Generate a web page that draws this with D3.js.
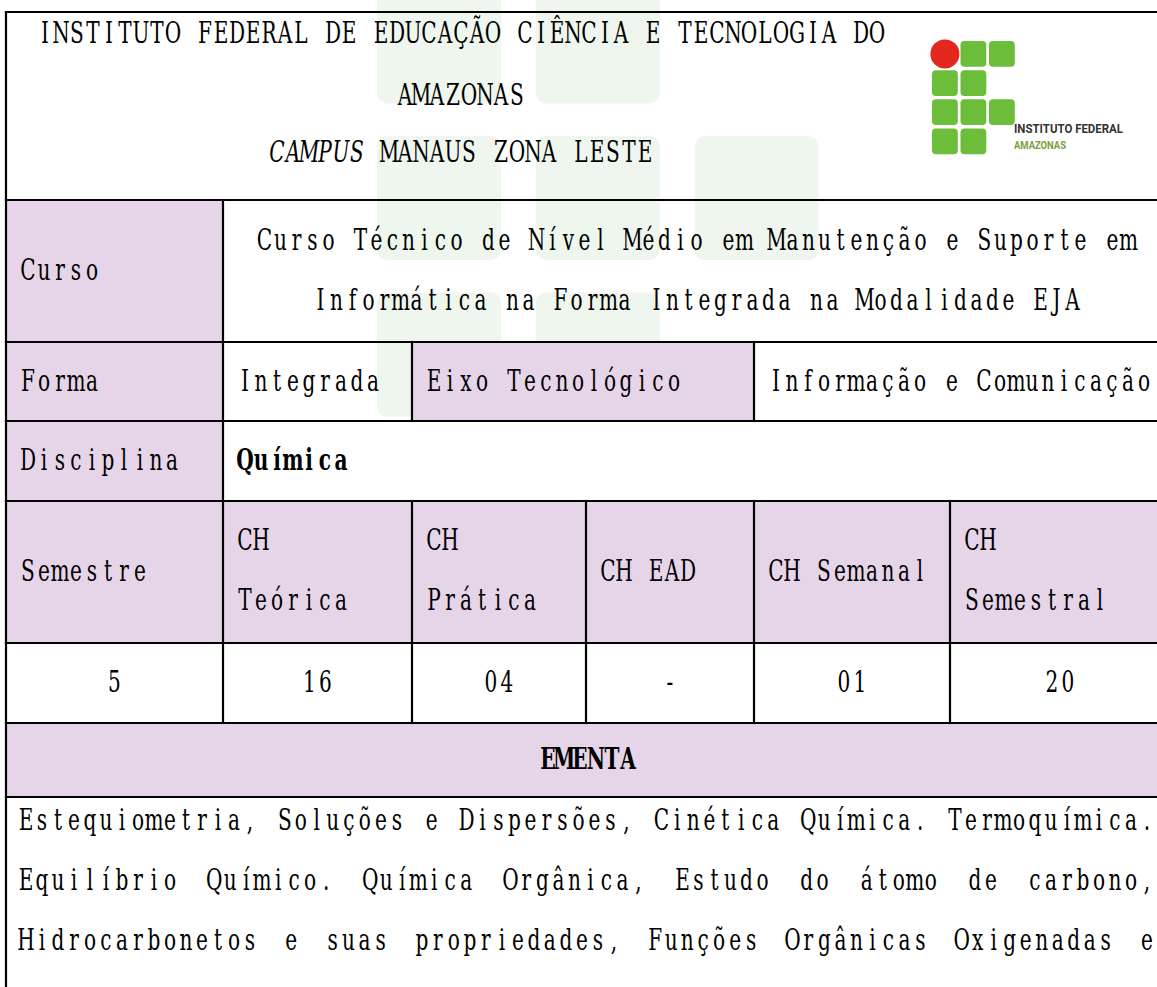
<!DOCTYPE html>
<html><head><meta charset="utf-8">
<script src="https://cdn.jsdelivr.net/npm/d3@7"></script>
<style>html,body{margin:0;padding:0;background:#fff;overflow:hidden}svg{display:block}</style>
</head><body>
<svg id="c" width="1157" height="987"></svg>
<script>
// ---------------- DATA (content) ----------------
const headerLines = [
  [{t:"INSTITUTO FEDERAL DE EDUCAÇÃO CIÊNCIA E TECNOLOGIA DO"}],
  [{t:"AMAZONAS"}],
  [{t:"CAMPUS", italic:true},{t:" MANAUS ZONA LESTE"}]
];
const logoLines = ["INSTITUTO FEDERAL", "AMAZONAS"];
const logoGrid = [ // logo cells: 'c' circle, 's' square, '' empty
  ["c","s","s"],
  ["s","s",""],
  ["s","s","s"],
  ["s","s",""]
];
const cursoLabel = "Curso";
const cursoLines = ["Curso Técnico de Nível Médio em Manutenção e Suporte em",
                    "Informática na Forma Integrada na Modalidade EJA"];
const formaCells = ["Forma", "Integrada", "Eixo Tecnológico", "Informação e Comunicação"];
const disciplinaCells = ["Disciplina", "Química"];
const loadHeaders = [["Semestre"], ["CH","Teórica"], ["CH","Prática"], ["CH EAD"], ["CH Semanal"], ["CH","Semestral"]];
const loadValues = ["5", "16", "04", "-", "01", "20"];
const ementaTitle = "EMENTA";
const ementaLines = [
  "Estequiometria, Soluções e Dispersões, Cinética Química. Termoquímica.",
  "Equilíbrio Químico. Química Orgânica, Estudo do átomo de carbono,",
  "Hidrocarbonetos e suas propriedades, Funções Orgânicas Oxigenadas e"
];

// ---------------- LAYOUT ----------------
const PURPLE = "#e6d5e8", WM = "#eef6ee", GREEN = "#6cbd3a", RED = "#e2271f";
const ADV = 16, FS = 30, SX = 0.67, FONT = "'DejaVu Serif','Liberation Serif',serif";
const X = {L:6, c1:223, c2:412, c3:586, c4:754, c5:950, R:1170};
const Y = {top:12, h:200, curso:342, forma:421, disc:501, semH:643, semV:723, em:797, bot:1000};
const PAD = 14;

const svg = d3.select("#c");
svg.append("rect").attr("width",1157).attr("height",987).attr("fill","#fff");

// watermark (faded logo) behind the table cells
const wmX = d3.scaleBand().domain([0,1,2]).range([377, 377+3*150]).paddingInner(25/150).paddingOuter(0).align(0);
const wmY = d3.scaleBand().domain([0,1,2,3]).range([-177, -177+4*150]).paddingInner(25/150).align(0);
const wmCells = [];
logoGrid.forEach((row,r)=>row.forEach((k,c)=>{ if(k) wmCells.push({r,c,k}); }));
svg.append("g").selectAll("rect").data(wmCells.filter(d=>d.k==="s")).join("rect")
  .attr("x",d=>wmX(d.c)).attr("y",d=>wmY(d.r))
  .attr("width",124).attr("height",124).attr("rx",10).attr("fill",WM);

// ---------------- CELLS ----------------
const cells = [
  {x0:X.L,x1:X.c1,y0:Y.h,y1:Y.curso,fill:PURPLE},
  {x0:X.L,x1:X.c1,y0:Y.curso,y1:Y.forma,fill:PURPLE},
  {x0:X.c2,x1:X.c4,y0:Y.curso,y1:Y.forma,fill:PURPLE},
  {x0:X.L,x1:X.c1,y0:Y.forma,y1:Y.disc,fill:PURPLE},
  {x0:X.L,x1:X.R,y0:Y.disc,y1:Y.semH,fill:PURPLE},
  {x0:X.L,x1:X.R,y0:Y.semV,y1:Y.em,fill:PURPLE}
];
svg.append("g").selectAll("rect").data(cells).join("rect")
  .attr("x",d=>d.x0).attr("y",d=>d.y0).attr("width",d=>d.x1-d.x0).attr("height",d=>d.y1-d.y0)
  .attr("fill",d=>d.fill);

// grid lines
const hLines = [Y.top,Y.h,Y.curso,Y.forma,Y.disc,Y.semH,Y.semV,Y.em].map(y=>({x1:X.L,x2:X.R,y1:y,y2:y}));
const vLines = [
  {x:X.L,y0:Y.top,y1:Y.bot},
  {x:X.c1,y0:Y.h,y1:Y.semV},
  {x:X.c2,y0:Y.curso,y1:Y.forma},{x:X.c4,y0:Y.curso,y1:Y.forma},
  {x:X.c2,y0:Y.disc,y1:Y.semV},{x:X.c3,y0:Y.disc,y1:Y.semV},{x:X.c4,y0:Y.disc,y1:Y.semV},{x:X.c5,y0:Y.disc,y1:Y.semV}
].map(d=>({x1:d.x,x2:d.x,y1:d.y0,y2:d.y1}));
svg.append("g").selectAll("line").data(hLines.concat(vLines)).join("line")
  .attr("x1",d=>d.x1).attr("x2",d=>d.x2).attr("y1",d=>d.y1).attr("y2",d=>d.y2)
  .attr("stroke","#000").attr("stroke-width",2.2).attr("stroke-linecap","square");

// ---------------- MONO TEXT ----------------
const textG = svg.append("g");
function segsOf(s){ return typeof s === "string" ? [{t:s}] : s; }
function drawMono(segs, startX, y, opts={}){
  segs = segsOf(segs);
  const centers = opts.centers;
  let i = 0;
  const t = textG.append("text")
    .attr("transform",`scale(${SX},1)`)
    .attr("y",y).attr("text-anchor","middle")
    .attr("font-family",FONT).attr("font-size",FS)
    .attr("font-weight",opts.bold?"bold":"normal").attr("fill","#000");
  segs.forEach(sg=>{
    const chars = Array.from(sg.t);
    const xs = chars.map(()=>{ const cx = centers ? centers[i] : startX + (i+0.5)*ADV; i++; return (cx/SX).toFixed(2); });
    t.append("tspan").attr("x",xs.join(" ")).attr("y",y)
      .attr("font-style",sg.italic?"italic":"normal").text(sg.t);
  });
  return t;
}
function len(segs){ return segsOf(segs).reduce((a,s)=>a+Array.from(s.t).length,0); }
function drawCentered(segs, cx, y, opts){ drawMono(segs, cx - len(segs)*ADV/2, y, opts); }
function drawLeft(segs, x0, y, opts){ drawMono(segs, x0 + PAD, y, opts); }
function drawJustified(str, x0, x1, y){
  const words = str.split(" ");
  const total = words.reduce((a,w)=>a+Array.from(w).length,0)*ADV;
  const gap = (x1-x0-total)/(words.length-1);
  const centers = []; let x = x0;
  words.forEach((w,wi)=>{
    Array.from(w).forEach(()=>{ centers.push(x+ADV/2); x+=ADV; });
    if(wi<words.length-1){ centers.push(x+gap/2); x+=gap; }
  });
  drawMono(str, x0, y, {centers});
}
const base = (y0,y1)=> (y0+y1)/2 + 9.5;
const LH = 60;

// header
const headerBase = [43, 105, 162];
headerLines.forEach((l,i)=>drawCentered(l, 461, headerBase[i]));

// Curso
drawLeft(cursoLabel, X.L, base(Y.h,Y.curso));
cursoLines.forEach((l,i)=>drawCentered(l, (X.c1+X.R)/2, base(Y.h,Y.curso) + (i-0.5)*LH));

// Forma row
const formaX = [X.L, X.c1, X.c2, X.c4];
formaCells.forEach((s,i)=>drawLeft(s, formaX[i], base(Y.curso,Y.forma)));

// Disciplina row
drawLeft(disciplinaCells[0], X.L, base(Y.forma,Y.disc));
drawLeft(disciplinaCells[1], X.c1, base(Y.forma,Y.disc), {bold:true});

// load header row
const loadX = [X.L, X.c1, X.c2, X.c3, X.c4, X.c5, X.R];
loadHeaders.forEach((lines,i)=>{
  const b = base(Y.disc,Y.semH);
  lines.forEach((l,j)=>drawLeft(l, loadX[i], b + (j-(lines.length-1)/2)*LH + (lines.length>1?-1:0)));
});
// values
loadValues.forEach((v,i)=>drawCentered(v, (loadX[i]+loadX[i+1])/2, base(Y.semH,Y.semV)));

// EMENTA
drawCentered(ementaTitle, (X.L+X.R)/2, base(Y.semV,Y.em), {bold:true});
ementaLines.forEach((l,i)=>drawJustified(l, 18, 1155, 830 + i*LH));

// ---------------- LOGO ----------------
const lx = d3.scaleBand().domain([0,1,2]).range([932, 932+3*27.6]).paddingInner(2.6/27.6).align(0);
const ly = d3.scaleBand().domain([0,1,2,3]).range([41, 41+4*28.3]).paddingInner(3.3/28.3).align(0);
const logoCells = [];
logoGrid.forEach((row,r)=>row.forEach((k,c)=>{ if(k) logoCells.push({r,c,k}); }));
const lg = svg.append("g");
lg.selectAll("rect").data(logoCells.filter(d=>d.k==="s")).join("rect")
  .attr("x",d=>lx(d.c)).attr("y",d=>ly(d.r)).attr("width",lx.bandwidth()).attr("height",ly.bandwidth())
  .attr("rx",4).attr("fill",GREEN);
lg.selectAll("circle").data(logoCells.filter(d=>d.k==="c")).join("circle")
  .attr("cx",d=>lx(d.c)+lx.bandwidth()/2).attr("cy",d=>ly(d.r)+ly.bandwidth()/2).attr("r",14.5).attr("fill",RED);
lg.append("text").attr("x",1014).attr("y",133).attr("font-family","Roboto, 'Liberation Sans', sans-serif")
  .attr("font-weight","bold").attr("font-size",12.5).attr("fill","#333")
  .attr("textLength",109).attr("lengthAdjust","spacingAndGlyphs").text(logoLines[0]);
lg.append("text").attr("x",1014).attr("y",149).attr("font-family","Roboto, 'Liberation Sans', sans-serif")
  .attr("font-weight","bold").attr("font-size",11.5).attr("fill","#7a9e3a")
  .attr("textLength",52).attr("lengthAdjust","spacingAndGlyphs").text(logoLines[1]);
</script>
</body></html>
